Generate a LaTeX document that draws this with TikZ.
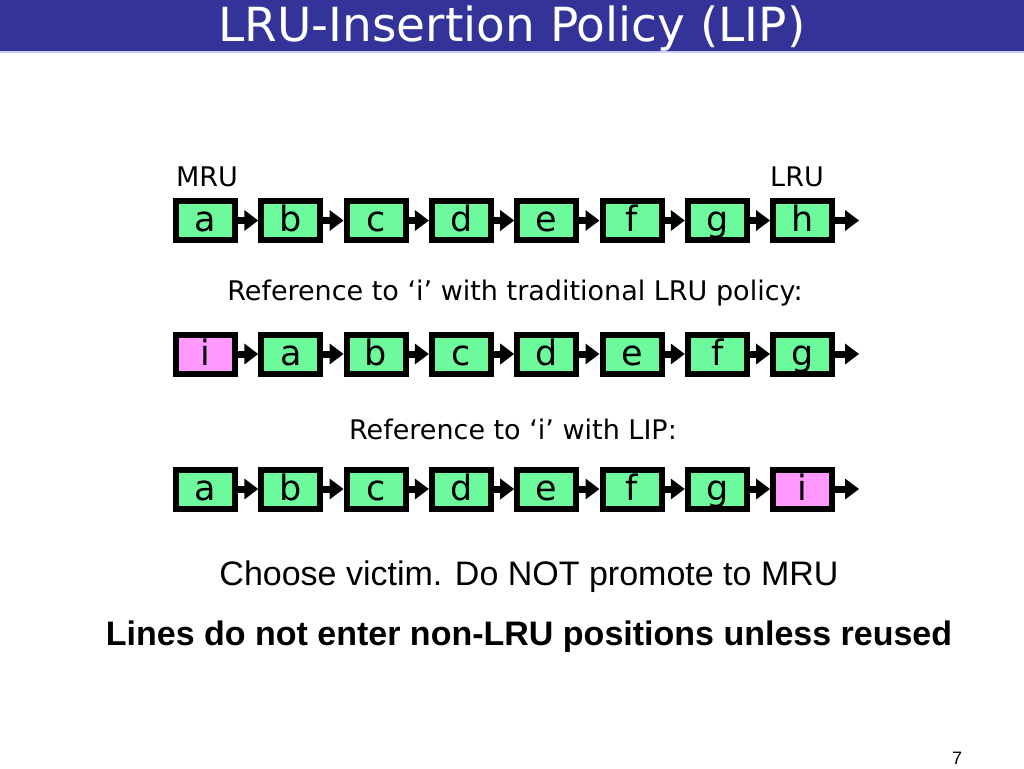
\documentclass[tikz,border=0pt]{standalone}
\usepackage{fontspec}
\setmainfont{Liberation Sans}
\newfontfamily\comicfont{DejaVu Sans}
\usetikzlibrary{arrows.meta,positioning}
\definecolor{titleblue}{RGB}{51,51,153}
\definecolor{titleline}{RGB}{204,204,255}
\definecolor{linegreen}{RGB}{108,250,156}
\definecolor{linepink}{RGB}{255,153,255}
\tikzset{
    cacheline/.style={rectangle, draw=black, fill=linegreen, line width=6pt, minimum width=59pt, minimum height=39pt, inner sep=0pt, text height=25pt, text depth=3pt, font=\comicfont\fontsize{35}{35}\selectfont},
    newline/.style={cacheline, fill=linepink},
    myarrow/.style={-{Triangle[length=14pt,width=20pt]}, line width=7pt},
    mylabel/.style={font=\comicfont\fontsize{27}{30}\selectfont}
}

\begin{document}
\begin{tikzpicture}[x=1pt,y=-1pt,node distance=85.3pt,on grid]
    \useasboundingbox (0,0) rectangle (1024,768);
    % title bar
    \fill[titleblue] (0,0) rectangle (1024,51);
    \fill[titleline] (0,51) rectangle (1024,53);
    \node[text=white, font=\comicfont\fontsize{47}{47}\selectfont] (title) at (512,29) {LRU-Insertion Policy (LIP)};

    % first row: before the reference
    \node[mylabel] (mru) at (207,177) {MRU};
    \node[mylabel] (lru) at (797,177) {LRU};
    \node[cacheline] (a1) at (205.5,220.5) {a};
    \node[cacheline] (b1) [right =of a1] {b};
    \node[cacheline] (c1) [right =of b1] {c};
    \node[cacheline] (d1) [right =of c1] {d};
    \node[cacheline] (e1) [right =of d1] {e};
    \node[cacheline] (f1) [right =of e1] {f};
    \node[cacheline] (g1) [right =of f1] {g};
    \node[cacheline] (h1) [right =of g1] {h};
    \coordinate (end1) at ([xshift=24pt]h1.east);
    \path (a1) edge [myarrow] (b1)
          (b1) edge [myarrow] (c1)
          (c1) edge [myarrow] (d1)
          (d1) edge [myarrow] (e1)
          (e1) edge [myarrow] (f1)
          (f1) edge [myarrow] (g1)
          (g1) edge [myarrow] (h1)
          (h1.east) edge [myarrow] (end1);

    % second row: traditional LRU
    \node[mylabel] (ref1) at (515,293) {Reference to ‘i’ with traditional LRU policy:};
    \node[newline] (i2) at (205.5,354) {i};
    \node[cacheline] (a2) [right =of i2] {a};
    \node[cacheline] (b2) [right =of a2] {b};
    \node[cacheline] (c2) [right =of b2] {c};
    \node[cacheline] (d2) [right =of c2] {d};
    \node[cacheline] (e2) [right =of d2] {e};
    \node[cacheline] (f2) [right =of e2] {f};
    \node[cacheline] (g2) [right =of f2] {g};
    \coordinate (end2) at ([xshift=24pt]g2.east);
    \path (i2) edge [myarrow] (a2)
          (a2) edge [myarrow] (b2)
          (b2) edge [myarrow] (c2)
          (c2) edge [myarrow] (d2)
          (d2) edge [myarrow] (e2)
          (e2) edge [myarrow] (f2)
          (f2) edge [myarrow] (g2)
          (g2.east) edge [myarrow] (end2);

    % third row: LIP
    \node[mylabel] (ref2) at (513,429) {Reference to ‘i’ with LIP:};
    \node[cacheline] (a3) at (205.5,489) {a};
    \node[cacheline] (b3) [right =of a3] {b};
    \node[cacheline] (c3) [right =of b3] {c};
    \node[cacheline] (d3) [right =of c3] {d};
    \node[cacheline] (e3) [right =of d3] {e};
    \node[cacheline] (f3) [right =of e3] {f};
    \node[cacheline] (g3) [right =of f3] {g};
    \node[newline] (i3) [right =of g3] {i};
    \coordinate (end3) at ([xshift=24pt]i3.east);
    \path (a3) edge [myarrow] (b3)
          (b3) edge [myarrow] (c3)
          (c3) edge [myarrow] (d3)
          (d3) edge [myarrow] (e3)
          (e3) edge [myarrow] (f3)
          (f3) edge [myarrow] (g3)
          (g3) edge [myarrow] (i3)
          (i3.east) edge [myarrow] (end3);

    \node[font=\fontsize{34}{40}\selectfont] (victim) at (529,577) {Choose victim. Do NOT promote to MRU};
    \node[font=\bfseries\fontsize{34}{40}\selectfont] (rule) at (529,637) {Lines do not enter non-LRU positions unless reused};
    \node[font=\fontsize{18}{20}\selectfont] (page) at (957,758) {7};
\end{tikzpicture}
\end{document}
